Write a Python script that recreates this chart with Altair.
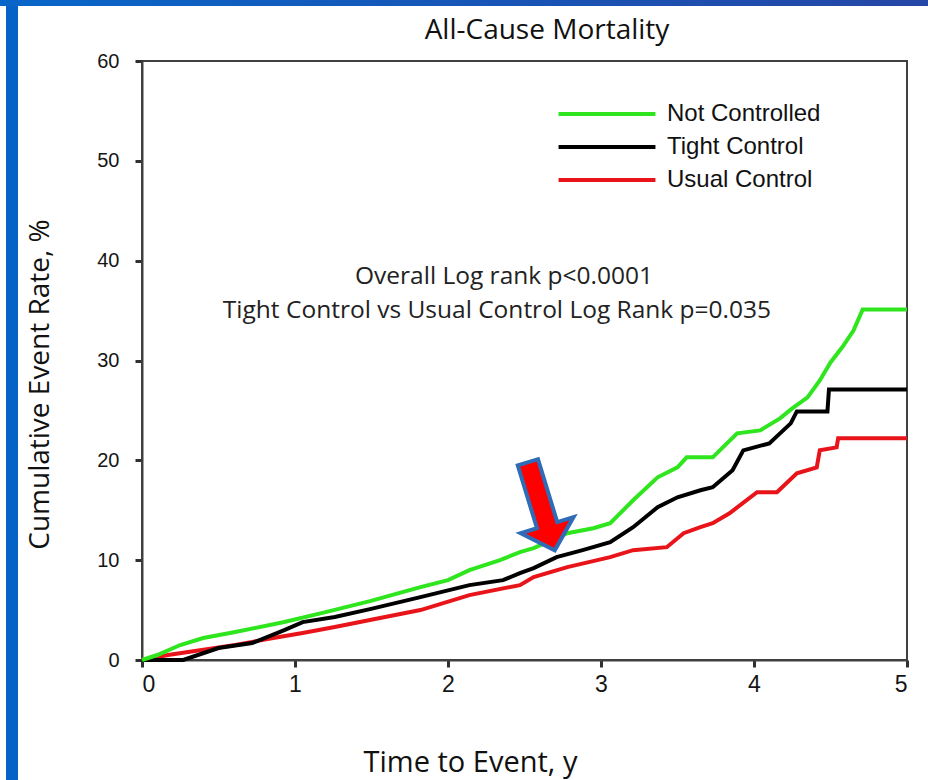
import altair as alt
import pandas as pd

# ---- data ----
series_names = ["Not Controlled", "Tight Control", "Usual Control"]
series_colors = ["#2fe61e", "#000000", "#e8141a"]

green_t = [0, 0.10, 0.25, 0.40, 0.61, 0.93, 1.20, 1.49, 1.82, 2.00, 2.14, 2.34, 2.47, 2.56, 2.78, 2.95, 3.06,
           3.21, 3.37, 3.50, 3.56, 3.73, 3.89, 4.04, 4.17, 4.25, 4.35, 4.43, 4.50, 4.58, 4.65, 4.71, 5.0]
green_y = [0, 0.5, 1.5, 2.2, 2.8, 3.8, 4.8, 5.9, 7.3, 8.0, 9.0, 10.0, 10.8, 11.2, 12.7, 13.2, 13.7,
           16.0, 18.3, 19.3, 20.3, 20.3, 22.7, 23.0, 24.2, 25.2, 26.3, 28.0, 29.8, 31.4, 33.0, 35.1, 35.1]

black_t = [0, 0.27, 0.50, 0.72, 0.93, 1.05, 1.26, 1.49, 1.82, 2.14, 2.36, 2.47, 2.56, 2.71, 2.88, 3.06,
           3.21, 3.37, 3.50, 3.65, 3.73, 3.86, 3.93, 4.10, 4.17, 4.24, 4.28, 4.48, 4.49, 5.0]
black_y = [0, 0, 1.2, 1.7, 3.0, 3.8, 4.3, 5.1, 6.3, 7.5, 8.0, 8.7, 9.2, 10.3, 11.0, 11.8,
           13.3, 15.3, 16.3, 17.0, 17.3, 19.0, 21.0, 21.7, 22.7, 23.7, 24.9, 24.9, 27.1, 27.1]

red_t = [0, 0.17, 0.39, 0.61, 0.82, 1.05, 1.26, 1.49, 1.82, 2.14, 2.47, 2.56, 2.78, 3.06, 3.21, 3.43,
         3.54, 3.65, 3.73, 3.84, 4.02, 4.15, 4.28, 4.41, 4.43, 4.54, 4.55, 5.0]
red_y = [0, 0.5, 1.0, 1.5, 2.1, 2.7, 3.3, 4.0, 5.0, 6.5, 7.5, 8.3, 9.3, 10.3, 11.0, 11.3,
         12.7, 13.3, 13.7, 14.7, 16.8, 16.8, 18.7, 19.3, 21.0, 21.3, 22.2, 22.2]

x_ticks = [0, 1, 2, 3, 4, 5]
y_ticks = [0, 10, 20, 30, 40, 50, 60]

title_text = ["All-Cause Mortality"]

note_text = ["Overall Log rank p<0.0001", "Tight Control vs Usual Control Log Rank p=0.035"]
note_t = [2.366, 2.32]
note_y = [38.4, 35.0]

arrow_t = [2.61]
arrow_y = [15.4]

# ---- tables ----
rows = []
for name, ts, ys in [("Usual Control", red_t, red_y), ("Tight Control", black_t, black_y),
                     ("Not Controlled", green_t, green_y)]:
    for i, (t, y) in enumerate(zip(ts, ys)):
        rows.append({"series": name, "t": t, "rate": y, "order": i})
curves = pd.DataFrame(rows)
notes = pd.DataFrame({"t": note_t, "rate": note_y, "text": note_text})
arrow = pd.DataFrame({"t": arrow_t, "rate": arrow_y})
title_df = pd.DataFrame({"text": title_text})

xs = alt.Scale(domain=[0, 5], nice=False, zero=False)
ys = alt.Scale(domain=[0, 60], nice=False)

# wide horizontal stroke used as the legend swatch
legend_swatch = "M -5.1 0 L 5.1 0"

lines = alt.Chart(curves).mark_line(strokeWidth=4, interpolate="linear").encode(
    x=alt.X("t:Q", scale=xs, axis=alt.Axis(
        values=x_ticks, format="d", title="Time to Event, y",
        labelFont="Liberation Sans Narrow, Liberation Sans", labelFontSize=23, labelPadding=6,
        titleFontSize=29, titleX=328, titleY=102, titleBaseline="middle", titleAlign="center")),
    y=alt.Y("rate:Q", scale=ys, axis=alt.Axis(
        values=y_ticks, format="d", title="Cumulative Event Rate, %",
        labelFont="Liberation Sans", labelFontSize=20, labelPadding=16,
        titleFontSize=28, titleX=-102, titleY=323, titleAngle=270, titleBaseline="middle",
        titleAlign="center")),
    color=alt.Color("series:N", scale=alt.Scale(domain=series_names, range=series_colors),
                    legend=alt.Legend(orient="none", legendX=453, legendY=41, title=None,
                                      symbolType=legend_swatch, symbolSize=361, symbolStrokeWidth=4,
                                      labelFont="Liberation Sans", labelFontSize=24,
                                      labelColor="#111111", labelOffset=48, rowPadding=9)),
    order="order:Q",
    detail="series:N",
)

texts = alt.Chart(notes).mark_text(font="Open Sans", fontSize=24.5, color="#222222",
                                   align="center", baseline="middle").encode(
    x=alt.X("t:Q", scale=xs), y=alt.Y("rate:Q", scale=ys), text="text:N")

title_mark = alt.Chart(title_df).mark_text(font="Open Sans", fontSize=28, color="#111111",
                                           align="center", baseline="middle").encode(
    x=alt.value(405), y=alt.value(-30), text="text:N")

arrow_path = "M -0.23 -1 L 0.23 -1 L 0.23 0.43 L 0.6 0.43 L 0 1 L -0.6 0.43 L -0.23 0.43 Z"
arrow_mark = alt.Chart(arrow).mark_point(shape=arrow_path, size=8464, filled=True, fill="#ff0000",
                                         stroke="#2f6cb8", strokeWidth=4, opacity=1, angle=343).encode(
    x=alt.X("t:Q", scale=xs), y=alt.Y("rate:Q", scale=ys))

# decorative slide frame (blue bars)
left_bar = alt.Chart(arrow).mark_rect(color="#0762c8").encode(
    x=alt.value(-136), x2=alt.value(-124), y=alt.value(-61), y2=alt.value(719))
top_bar = alt.Chart(arrow).mark_rect(color=alt.Gradient(
    gradient="linear", x1=0, x2=1, y1=0, y2=0,
    stops=[alt.GradientStop(color="#0866c8", offset=0), alt.GradientStop(color="#2546a6", offset=1)])).encode(
    x=alt.value(-142), x2=alt.value(786), y=alt.value(-61), y2=alt.value(-55))

chart = alt.layer(left_bar, top_bar, lines, texts, arrow_mark, title_mark).properties(
    width=765, height=599,
    autosize=alt.AutoSizeParams(type="none"),
    padding={"left": 142, "top": 61, "right": 21, "bottom": 120},
    background="white",
).configure_view(stroke="#404040", strokeWidth=2).configure_axis(
    grid=False, domainColor="#404040", domainWidth=2, tickColor="#303030", tickWidth=3,
    tickSize=7, labelColor="#151515", titleFont="Open Sans",
    titleFontWeight="normal", titleColor="#111111")

chart.save("out.html", embed_options={"renderer": "svg", "actions": False})
